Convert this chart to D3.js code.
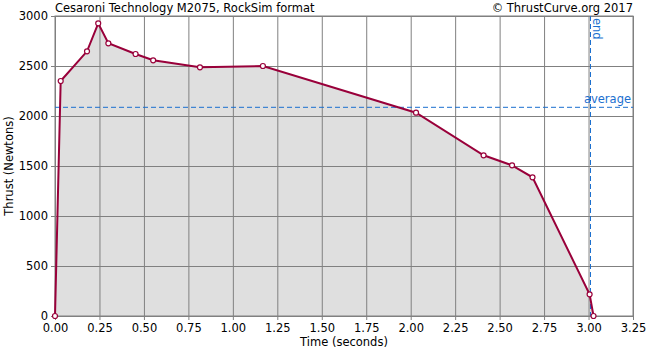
<!DOCTYPE html>
<html>
<head>
<meta charset="utf-8">
<script src="https://cdn.jsdelivr.net/npm/d3@7"></script>
<style>
  html, body { margin: 0; padding: 0; background: #fff; overflow: hidden; }
  svg { display: block; }
  svg text { font-family: "DejaVu Sans", sans-serif; font-size: 11.5px; fill: #000; }
</style>
</head>
<body>
<svg id="chart"></svg>
<script>
// thrust curve points
const times = [0, 0.032, 0.18, 0.243, 0.30, 0.453, 0.552, 0.815, 1.169, 2.03, 2.41, 2.57, 2.685, 3.006, 3.028]
const thrust = [0, 2350, 2647, 2927, 2727, 2620, 2557, 2487, 2500, 2033, 1607, 1507, 1387, 217, 0]
const averageThrust = 2087
const burnEnd = 3.011
const xTicks = [0, 0.25, 0.5, 0.75, 1, 1.25, 1.5, 1.75, 2, 2.25, 2.5, 2.75, 3, 3.25]
const yTicks = [0, 500, 1000, 1500, 2000, 2500, 3000]

const width = 650, height = 350
const margin = { top: 16, right: 17, bottom: 34, left: 55 }
const innerWidth = width - margin.left - margin.right
const innerHeight = height - margin.top - margin.bottom

const svg = d3.select('#chart')
  .attr('width', width)
  .attr('height', height)

const data = times.map((t, i) => ({ t, f: thrust[i] }))

const x = d3.scaleLinear().domain([0, 3.25]).range([0, innerWidth])
const y = d3.scaleLinear().domain([0, 3000]).range([innerHeight, 0])

const g = svg.append('g')
  .attr('transform', `translate(${margin.left},${margin.top})`)

// filled area under curve
g.append('path')
  .datum(data)
  .attr('fill', '#dfdfdf')
  .attr('d', d3.area().x(d => x(d.t)).y0(innerHeight).y1(d => y(d.f)))

// grid + axes
const xAxis = d3.axisBottom(x).tickValues(xTicks).tickFormat(d3.format('.2f'))
  .tickSize(-innerHeight).tickPadding(6)
const yAxis = d3.axisLeft(y).tickValues(yTicks).tickFormat(d3.format('d'))
  .tickSize(-innerWidth).tickPadding(7)

const xAxisG = g.append('g')
  .attr('transform', `translate(0,${innerHeight})`)
  .call(xAxis)
xAxisG.select('.domain').remove()
xAxisG.selectAll('.tick line').attr('stroke', '#808080').attr('y1', -innerHeight).attr('y2', 4)
xAxisG.selectAll('text').attr('dy', '0.9em')

const yAxisG = g.append('g').call(yAxis)
yAxisG.select('.domain').remove()
yAxisG.selectAll('.tick line').attr('stroke', '#808080').attr('x1', -4)

// frame
g.append('rect')
  .attr('width', innerWidth)
  .attr('height', innerHeight)
  .attr('fill', 'none')
  .attr('stroke', '#808080')

// average and end markers
g.append('line')
  .attr('x1', 0).attr('x2', innerWidth)
  .attr('y1', y(averageThrust)).attr('y2', y(averageThrust))
  .attr('stroke', '#1a6fcf').attr('stroke-dasharray', '5,3')
g.append('text')
  .attr('x', innerWidth - 2).attr('y', y(averageThrust) - 4)
  .attr('text-anchor', 'end')
  .style('fill', '#1a6fcf')
  .text('average')

g.append('line')
  .attr('x1', x(burnEnd)).attr('x2', x(burnEnd))
  .attr('y1', 0).attr('y2', innerHeight)
  .attr('stroke', '#1a6fcf').attr('stroke-dasharray', '5,3')
g.append('text')
  .attr('transform', `translate(${x(burnEnd) + 3},2) rotate(90)`)
  .style('fill', '#1a6fcf')
  .text('end')

// thrust line
g.append('path')
  .datum(data)
  .attr('fill', 'none')
  .attr('stroke', '#99003a')
  .attr('stroke-width', 2)
  .attr('d', d3.line().x(d => x(d.t)).y(d => y(d.f)))

g.selectAll('.pt').data(data)
  .enter().append('circle')
  .attr('class', 'pt')
  .attr('cx', d => x(d.t))
  .attr('cy', d => y(d.f))
  .attr('r', 2.5)
  .attr('fill', '#fff')
  .attr('stroke', '#99003a')
  .attr('stroke-width', 1.2)

// titles
svg.append('text')
  .attr('x', margin.left).attr('y', 12)
  .text('Cesaroni Technology M2075, RockSim format')
svg.append('text')
  .attr('x', margin.left + innerWidth).attr('y', 12)
  .attr('text-anchor', 'end')
  .text('© ThrustCurve.org 2017')

svg.append('text')
  .attr('x', margin.left + innerWidth / 2).attr('y', height - 4)
  .attr('text-anchor', 'middle')
  .text('Time (seconds)')
svg.append('text')
  .attr('transform', `translate(13,${margin.top + innerHeight / 2}) rotate(-90)`)
  .attr('text-anchor', 'middle')
  .text('Thrust (Newtons)')
</script>
</body>
</html>
